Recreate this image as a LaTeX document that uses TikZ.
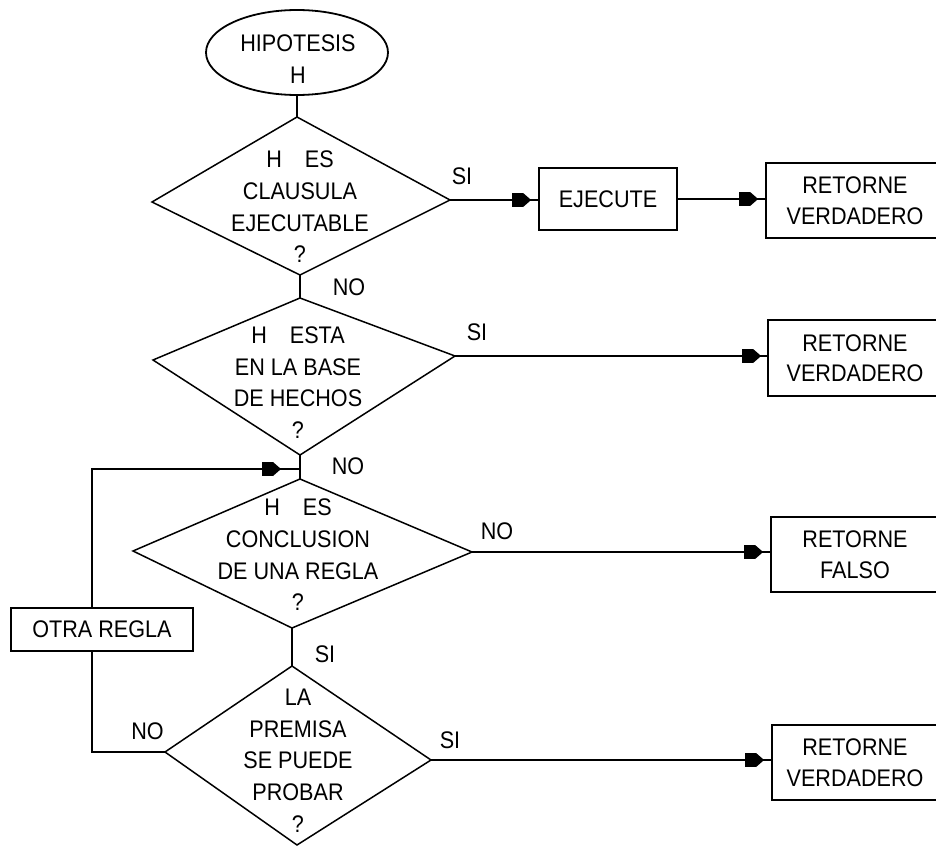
\documentclass[tikz,border=0pt]{standalone}
\usepackage{fontspec}
\setmainfont{Liberation Sans}[FakeStretch=0.9]
\usetikzlibrary{arrows.meta,shapes.geometric}

\tikzset{
  txt/.style={font=\fontsize{24pt}{31.7pt}\selectfont, align=center, inner sep=0pt},
  wire/.style={line width=1.8pt},
  dia/.style={line width=1.5pt},
  box/.style={draw, line width=1.8pt, rectangle, txt, font=\fontsize{24pt}{30.5pt}\selectfont},
  % connector ending in a small filled head that stops short of the target
  arr/.style={wire, -{Rectangle[length=11pt,width=14pt,sep=0pt,line width=0pt]
                      Triangle[length=8pt,width=14pt,sep=0pt,line width=0pt]
                      Rectangle[length=#1,width=1.8pt,sep=0pt,line width=0pt]}},
  arr/.default=7pt
}

\begin{document}
\begin{tikzpicture}[x=1pt,y=-1pt]
\useasboundingbox (0,0) rectangle (936,848);
\clip (0,0) rectangle (936,848);

% start
\node[draw, ellipse, wire, minimum width=182pt, minimum height=85pt, inner sep=0pt] (ell) at (297,52.5) {};
\node[txt] (t0) at (298,59) {HIPOTESIS\\H};

% decision 1
\coordinate (d1n) at (297,117);
\coordinate (d1e) at (450,200);
\coordinate (d1s) at (300,275);
\coordinate (d1w) at (152,202);
\draw[dia] (d1n) -- (d1e) -- (d1s) -- (d1w) -- cycle;
\node[txt] (t1) at (300,207) {H\hspace{23pt}ES\\CLAUSULA\\EJECUTABLE\\?};

% decision 2
\coordinate (d2n) at (300,298);
\coordinate (d2e) at (455,356);
\coordinate (d2s) at (300,455);
\coordinate (d2w) at (153,360);
\draw[dia] (d2n) -- (d2e) -- (d2s) -- (d2w) -- cycle;
\node[txt] (t2) at (298,382.5) {H\hspace{23pt}ESTA\\EN LA BASE\\DE HECHOS\\?};

% decision 3
\coordinate (d3n) at (300,479);
\coordinate (d3e) at (472,552);
\coordinate (d3s) at (292,628);
\coordinate (d3w) at (133,551);
\draw[dia] (d3n) -- (d3e) -- (d3s) -- (d3w) -- cycle;
\node[txt] (t3) at (298,555) {H\hspace{23pt}ES\\CONCLUSION\\DE UNA REGLA\\?};

% decision 4
\coordinate (d4n) at (292,666);
\coordinate (d4e) at (431,760);
\coordinate (d4s) at (297,845);
\coordinate (d4w) at (165,752);
\draw[dia] (d4n) -- (d4e) -- (d4s) -- (d4w) -- cycle;
\node[txt] (t4) at (298,760.5) {LA\\PREMISA\\SE PUEDE\\PROBAR\\?};

% action boxes
\node[box, minimum width=138pt, minimum height=62pt] (ejec) at (608,199) {EJECUTE};
\node[box, minimum width=178pt, minimum height=75pt] (b1) at (855,200.5) {RETORNE\\VERDADERO};
\node[box, minimum width=174pt, minimum height=76pt] (b2) at (855,358) {RETORNE\\VERDADERO};
\node[box, minimum width=168pt, minimum height=75pt] (b3) at (855,554.5) {RETORNE\\FALSO};
\node[box, minimum width=166pt, minimum height=75pt] (b4) at (855,762.5) {RETORNE\\VERDADERO};
\node[box, minimum width=182pt, minimum height=43pt] (otra) at (102,629.5) {OTRA REGLA};

% main vertical flow
\coordinate (join) at (300,469);
\coordinate (lp) at (92,469);
\draw[wire] (ell.south) -- (d1n);
\draw[wire] (d1s) -- (d2n);
\draw[wire] (d2s) -- (d3n);
\draw[wire] (d3s) -- (d4n);

% horizontal branches
\draw[arr] (d1e) -- (d1e -| ejec.west);
\draw[arr] (ejec.east) -- (ejec.east -| b1.west);
\draw[arr=6pt] (d2e) -- (d2e -| b2.west);
\draw[arr] (d3e) -- (d3e -| b3.west);
\draw[arr] (d4e) -- (d4e -| b4.west);

% loop back through the next rule
\draw[wire] (d4w) -| (otra.south -| lp);
\draw[arr=19pt] (otra.north -| lp) |- (join);

% branch labels
\node[txt] (l1) at (462,176.5) {SI};
\node[txt] (l2) at (349,287) {NO};
\node[txt] (l3) at (477,332.5) {SI};
\node[txt] (l4) at (348,466.5) {NO};
\node[txt] (l5) at (497,531) {NO};
\node[txt] (l6) at (325,654) {SI};
\node[txt] (l7) at (147.5,731.5) {NO};
\node[txt] (l8) at (450,740) {SI};
\end{tikzpicture}
\end{document}
